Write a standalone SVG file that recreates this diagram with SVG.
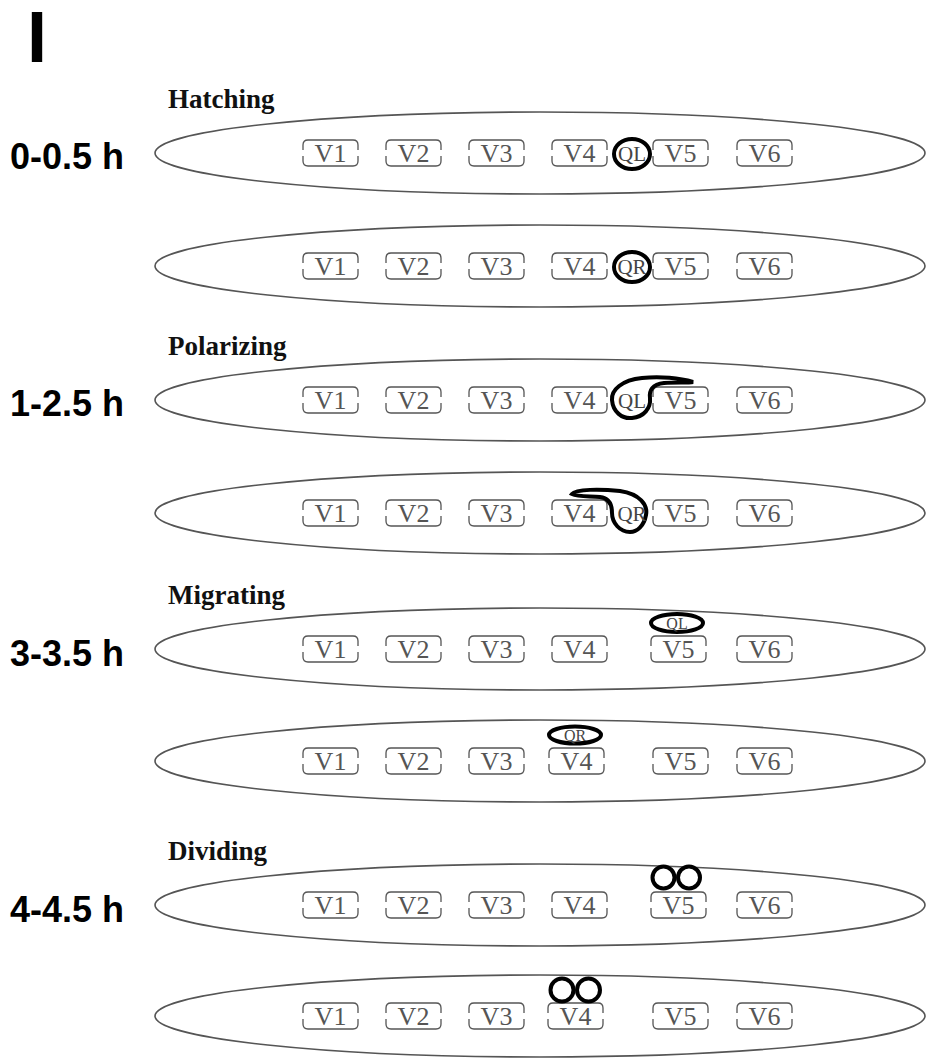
<svg xmlns="http://www.w3.org/2000/svg" xmlns:xlink="http://www.w3.org/1999/xlink" width="927" height="1060" viewBox="0 0 927 1060">
<style>
.worm{fill:none;stroke:#555;stroke-width:1.6}
.box{fill:none;stroke:#555;stroke-width:1.3}
.vt{font-family:"Liberation Serif",serif;font-size:26px;fill:#555;text-anchor:middle}
.qt{font-family:"Liberation Serif",serif;font-size:21px;fill:#444;text-anchor:middle}
.qs{font-family:"Liberation Serif",serif;font-size:16px;fill:#444;text-anchor:middle}
.cell{fill:none;stroke:#000;stroke-width:4}
.stage{font-family:"Liberation Serif",serif;font-size:27px;font-weight:bold;fill:#111}
.time{font-family:"Liberation Sans",Arial,sans-serif;font-size:36px;font-weight:bold;fill:#000}
</style>
<defs>
<path id="box" class="box" d="M5,0 H50 Q55,0 55,5 V10 M55,16 V21 Q55,26 50,26 H5 Q0,26 0,21 V16 M0,10 V5 Q0,0 5,0"/>
</defs>
<rect width="927" height="1060" fill="#fff"/>
<text x="27" y="62" font-family="Liberation Sans,Arial,sans-serif" font-size="72" font-weight="bold">I</text>

<g id="labels">
<text class="stage" x="168" y="108">Hatching</text>
<text class="stage" x="168" y="355">Polarizing</text>
<text class="stage" x="168" y="604">Migrating</text>
<text class="stage" x="168" y="860">Dividing</text>
<text class="time" x="10" y="169">0-0.5 h</text>
<text class="time" x="10" y="416">1-2.5 h</text>
<text class="time" x="10" y="666">3-3.5 h</text>
<text class="time" x="10" y="922">4-4.5 h</text>
</g>

<g id="row1">
<ellipse class="worm" cx="540" cy="153" rx="385" ry="41"/>
<use href="#box" x="303" y="140"/><text class="vt" x="330.5" y="161.5">V1</text>
<use href="#box" x="386" y="140"/><text class="vt" x="413.5" y="161.5">V2</text>
<use href="#box" x="469" y="140"/><text class="vt" x="496.5" y="161.5">V3</text>
<use href="#box" x="552" y="140"/><text class="vt" x="579.5" y="161.5">V4</text>
<use href="#box" x="653" y="140"/><text class="vt" x="680.5" y="161.5">V5</text>
<use href="#box" x="737" y="140"/><text class="vt" x="764.5" y="161.5">V6</text>
<g id="ql1"><ellipse class="cell" cx="632" cy="154" rx="18" ry="15"/><text class="qt" x="632" y="161">QL</text></g>
</g>

<g id="row2">
<ellipse class="worm" cx="540" cy="266" rx="385" ry="41"/>
<use href="#box" x="303" y="253"/><text class="vt" x="330.5" y="274.5">V1</text>
<use href="#box" x="386" y="253"/><text class="vt" x="413.5" y="274.5">V2</text>
<use href="#box" x="469" y="253"/><text class="vt" x="496.5" y="274.5">V3</text>
<use href="#box" x="552" y="253"/><text class="vt" x="579.5" y="274.5">V4</text>
<use href="#box" x="653" y="253"/><text class="vt" x="680.5" y="274.5">V5</text>
<use href="#box" x="737" y="253"/><text class="vt" x="764.5" y="274.5">V6</text>
<g id="qr2"><ellipse class="cell" cx="632" cy="267" rx="18" ry="15"/><text class="qt" x="632" y="274">QR</text></g>
</g>

<g id="row3">
<ellipse class="worm" cx="540" cy="400" rx="385" ry="41"/>
<use href="#box" x="303" y="387"/><text class="vt" x="330.5" y="408.5">V1</text>
<use href="#box" x="386" y="387"/><text class="vt" x="413.5" y="408.5">V2</text>
<use href="#box" x="469" y="387"/><text class="vt" x="496.5" y="408.5">V3</text>
<use href="#box" x="552" y="387"/><text class="vt" x="579.5" y="408.5">V4</text>
<use href="#box" x="653" y="387"/><text class="vt" x="680.5" y="408.5">V5</text>
<use href="#box" x="737" y="387"/><text class="vt" x="764.5" y="408.5">V6</text>
<g id="ql3"><path class="cell" stroke-width="3.5" d="M693,382 C680,378 660,376 642,378 C622,380 611,390 612,400 C613,412 622,419 632,418 C644,417 651,408 650,398 C649,391 652,384 664,383 C676,382 688,383 693,382 Z"/><text class="qt" x="632" y="408">QL</text></g>
</g>

<g id="row4">
<ellipse class="worm" cx="540" cy="513" rx="385" ry="41"/>
<use href="#box" x="303" y="500"/><text class="vt" x="330.5" y="521.5">V1</text>
<use href="#box" x="386" y="500"/><text class="vt" x="413.5" y="521.5">V2</text>
<use href="#box" x="469" y="500"/><text class="vt" x="496.5" y="521.5">V3</text>
<use href="#box" x="552" y="500"/><text class="vt" x="579.5" y="521.5">V4</text>
<use href="#box" x="653" y="500"/><text class="vt" x="680.5" y="521.5">V5</text>
<use href="#box" x="737" y="500"/><text class="vt" x="764.5" y="521.5">V6</text>
<g id="qr4"><path class="cell" stroke-width="3.5" d="M572,494 C576,489 600,489 620,491 C640,494 648,505 646,515 C644,526 637,532 630,532 C620,532 612,523 612,513 C612,505 609,498 600,497 C590,496 578,497 572,494 Z"/><text class="qt" x="632" y="521">QR</text></g>
</g>

<g id="row5">
<ellipse class="worm" cx="540" cy="649" rx="385" ry="41"/>
<use href="#box" x="303" y="636"/><text class="vt" x="330.5" y="657.5">V1</text>
<use href="#box" x="386" y="636"/><text class="vt" x="413.5" y="657.5">V2</text>
<use href="#box" x="469" y="636"/><text class="vt" x="496.5" y="657.5">V3</text>
<use href="#box" x="552" y="636"/><text class="vt" x="579.5" y="657.5">V4</text>
<use href="#box" x="651" y="636"/><text class="vt" x="678.5" y="657.5">V5</text>
<use href="#box" x="737" y="636"/><text class="vt" x="764.5" y="657.5">V6</text>
<g id="ql5"><ellipse class="cell" cx="677" cy="623" rx="26" ry="9"/><text class="qs" x="677" y="628.5">QL</text></g>
</g>

<g id="row6">
<ellipse class="worm" cx="540" cy="761" rx="385" ry="41"/>
<use href="#box" x="303" y="748"/><text class="vt" x="330.5" y="769.5">V1</text>
<use href="#box" x="386" y="748"/><text class="vt" x="413.5" y="769.5">V2</text>
<use href="#box" x="469" y="748"/><text class="vt" x="496.5" y="769.5">V3</text>
<use href="#box" x="549" y="748"/><text class="vt" x="576.5" y="769.5">V4</text>
<use href="#box" x="653" y="748"/><text class="vt" x="680.5" y="769.5">V5</text>
<use href="#box" x="737" y="748"/><text class="vt" x="764.5" y="769.5">V6</text>
<g id="qr6"><ellipse class="cell" cx="575" cy="735" rx="26" ry="8.5"/><text class="qs" x="575" y="740.5">QR</text></g>
</g>

<g id="row7">
<ellipse class="worm" cx="540" cy="905" rx="385" ry="41"/>
<use href="#box" x="303" y="892"/><text class="vt" x="330.5" y="913.5">V1</text>
<use href="#box" x="386" y="892"/><text class="vt" x="413.5" y="913.5">V2</text>
<use href="#box" x="469" y="892"/><text class="vt" x="496.5" y="913.5">V3</text>
<use href="#box" x="552" y="892"/><text class="vt" x="579.5" y="913.5">V4</text>
<use href="#box" x="651" y="892"/><text class="vt" x="678.5" y="913.5">V5</text>
<use href="#box" x="737" y="892"/><text class="vt" x="764.5" y="913.5">V6</text>
<g id="div7"><circle class="cell" cx="663.5" cy="877.5" r="11"/><circle class="cell" cx="689" cy="877.5" r="11"/></g>
</g>

<g id="row8">
<ellipse class="worm" cx="540" cy="1016" rx="385" ry="41"/>
<use href="#box" x="303" y="1003"/><text class="vt" x="330.5" y="1024.5">V1</text>
<use href="#box" x="386" y="1003"/><text class="vt" x="413.5" y="1024.5">V2</text>
<use href="#box" x="469" y="1003"/><text class="vt" x="496.5" y="1024.5">V3</text>
<use href="#box" x="548" y="1003"/><text class="vt" x="575.5" y="1024.5">V4</text>
<use href="#box" x="653" y="1003"/><text class="vt" x="680.5" y="1024.5">V5</text>
<use href="#box" x="737" y="1003"/><text class="vt" x="764.5" y="1024.5">V6</text>
<g id="div8"><circle class="cell" cx="562" cy="990" r="11.5"/><circle class="cell" cx="588.5" cy="990" r="11.5"/></g>
</g>
<g id="connectors"/>
</svg>
